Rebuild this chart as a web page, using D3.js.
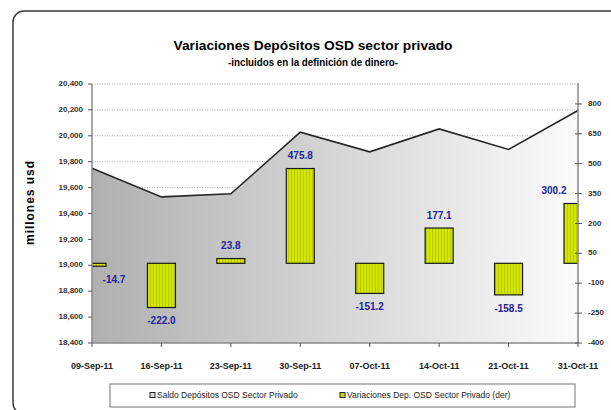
<!DOCTYPE html>
<html><head><meta charset="utf-8">
<script src="https://cdn.jsdelivr.net/npm/d3@7"></script>
<style>body{margin:0;background:#fff}svg{display:block;font-family:Arial,"Liberation Sans",sans-serif}</style>
</head><body>
<svg id="c" width="611" height="410"></svg>
<script>
const categories = ["09-Sep-11","16-Sep-11","23-Sep-11","30-Sep-11","07-Oct-11","14-Oct-11","21-Oct-11","31-Oct-11"];
const saldo = [19750, 19528, 19552, 20028, 19876, 20053, 19895, 20195];
const variaciones = [-14.7, -222.0, 23.8, 475.8, -151.2, 177.1, -158.5, 300.2];
const leftTicks = [18400,18600,18800,19000,19200,19400,19600,19800,20000,20200,20400];
const rightTicks = [-400,-250,-100,50,200,350,500,650,800];
const seriesNames = ["Saldo Depósitos OSD Sector Privado","Variaciones Dep. OSD Sector Privado (der)"];

const svg = d3.select("#c");
const L = 92, R = 578, T = 84, B = 343;
const x = d3.scalePoint().domain(categories).range([L, R]);
const yL = d3.scaleLinear().domain([18400, 20400]).range([B, T]);
const yR = d3.scaleLinear().domain([-400, 900]).range([B, T]);
const fmt1 = d => d3.format(".1f")(d).replace("\u2212","-");
const fmtR = d => String(d);

const defs = svg.append("defs");
const g = defs.append("linearGradient").attr("id","ag").attr("x1",0).attr("x2",1).attr("y1",0).attr("y2",0);
g.append("stop").attr("offset","0%").attr("stop-color","#b0b0b0");
g.append("stop").attr("offset","100%").attr("stop-color","#fbfbfb");
const pat = defs.append("pattern").attr("id","bp").attr("width",3).attr("height",3).attr("patternUnits","userSpaceOnUse");
pat.append("rect").attr("width",3).attr("height",3).attr("fill","#d2e600");
pat.append("rect").attr("width",1).attr("height",3).attr("fill","#b9cc00");
defs.append("clipPath").attr("id","pc").append("rect").attr("x",L).attr("y",T-5).attr("width",R-L).attr("height",B-T+5);

// outer border
svg.append("rect").attr("x",13).attr("y",11).attr("width",640).attr("height",403).attr("rx",11)
  .attr("fill","none").attr("stroke","#3a3a3a").attr("stroke-width",1.5);

// titles
svg.append("text").attr("x",313).attr("y",50).attr("text-anchor","middle").attr("font-size",13.5).attr("font-weight","bold")
  .attr("textLength",279).attr("lengthAdjust","spacingAndGlyphs").text("Variaciones Depósitos OSD sector privado");
svg.append("text").attr("x",313).attr("y",66).attr("text-anchor","middle").attr("font-size",10.5).attr("font-weight","bold")
  .attr("textLength",170).attr("lengthAdjust","spacingAndGlyphs").text("-incluidos en la definición de dinero-");
svg.append("text").attr("transform","translate(34,203) rotate(-90)").attr("text-anchor","middle").attr("font-size",12).attr("font-weight","bold")
  .attr("textLength",84).attr("lengthAdjust","spacing").text("millones usd");

// gridlines
svg.append("g").selectAll("line").data(leftTicks.slice(1)).join("line")
  .attr("x1",L).attr("x2",R).attr("y1",d=>yL(d)).attr("y2",d=>yL(d))
  .attr("stroke","#9a9a9a").attr("stroke-width",0.8).attr("stroke-dasharray","1,1.5");

// area + line
const area = d3.area().x((d,i)=>x(categories[i])).y0(B).y1(d=>yL(d));
svg.append("path").datum(saldo).attr("d",area).attr("fill","url(#ag)");
const line = d3.line().x((d,i)=>x(categories[i])).y(d=>yL(d));
svg.append("path").datum(saldo).attr("d",line).attr("fill","none").attr("stroke","#262626").attr("stroke-width",1.6);

// bars
const bw = 28;
svg.append("g").attr("clip-path","url(#pc)").selectAll("rect").data(variaciones).join("rect")
  .attr("x",(d,i)=>x(categories[i])-bw/2).attr("width",bw)
  .attr("y",d=>yR(Math.max(0,d))).attr("height",d=>Math.abs(yR(d)-yR(0)))
  .attr("fill","url(#bp)").attr("stroke","#1a1a1a").attr("stroke-width",1.2);

// bar labels
svg.append("g").selectAll("text").data(variaciones).join("text")
  .attr("x",(d,i)=>Math.min(Math.max(x(categories[i]),L+22),R-24))
  .attr("y",d=>d>=0 ? yR(d)-12 : yR(d)+14)
  .attr("dominant-baseline","middle").attr("text-anchor","middle")
  .attr("font-size",10).attr("font-weight","bold").attr("fill","#23239a")
  .text(fmt1);

// axes
const ax = svg.append("g").attr("font-size",8).attr("fill","#222");
ax.append("line").attr("x1",L).attr("x2",L).attr("y1",T).attr("y2",B).attr("stroke","#8a8a8a").attr("stroke-width",1.5);
ax.append("line").attr("x1",R).attr("x2",R).attr("y1",T-1).attr("y2",B).attr("stroke","#8a8a8a").attr("stroke-width",1.5);
ax.append("line").attr("x1",L).attr("x2",R).attr("y1",B).attr("y2",B).attr("stroke","#8a8a8a").attr("stroke-width",1.5);
ax.selectAll(".lt").data(leftTicks).join("line").attr("x1",L-4).attr("x2",L).attr("y1",d=>yL(d)).attr("y2",d=>yL(d)).attr("stroke","#555");
ax.selectAll(".ll").data(leftTicks).join("text").attr("x",L-9).attr("y",d=>yL(d)).attr("text-anchor","end")
  .attr("dominant-baseline","middle").attr("font-size",8).attr("font-weight","bold").attr("fill","#333").text(d=>d3.format(",")(d));
ax.selectAll(".rt").data(rightTicks).join("line").attr("x1",R-3).attr("x2",R+4).attr("y1",d=>yR(d)).attr("y2",d=>yR(d)).attr("stroke","#555");
ax.selectAll(".rl").data(rightTicks).join("text").attr("x",R+10).attr("y",d=>yR(d)).attr("text-anchor","start")
  .attr("dominant-baseline","middle").attr("font-size",8).attr("font-weight","bold").attr("fill","#333").text(fmtR);
ax.selectAll(".xt").data(categories).join("line").attr("x1",d=>x(d)).attr("x2",d=>x(d)).attr("y1",B).attr("y2",B+4).attr("stroke","#555");
ax.selectAll(".xl").data(categories).join("text").attr("x",d=>x(d)).attr("y",367).attr("text-anchor","middle")
  .attr("dominant-baseline","middle").attr("font-size",9).attr("font-weight","bold").attr("fill","#222").text(d=>d);

// legend
const lg = svg.append("g");
lg.append("rect").attr("x",110).attr("y",384).attr("width",465).attr("height",23).attr("fill","#fff").attr("stroke","#8a8a8a").attr("stroke-width",1.2);
const lx = [150, 340];
lg.append("rect").attr("x",lx[0]).attr("y",392.5).attr("width",5).attr("height",5).attr("fill","#ddd").attr("stroke","#222").attr("stroke-width",1);
lg.append("rect").attr("x",lx[1]).attr("y",392.5).attr("width",5).attr("height",5).attr("fill","#c9dc00").attr("stroke","#222").attr("stroke-width",1);
lg.selectAll("text").data(seriesNames).join("text").attr("x",(d,i)=>lx[i]+7).attr("y",395.5).attr("dominant-baseline","middle")
  .attr("font-size",8.5).attr("fill","#222").text(d=>d);
</script>
</body></html>
